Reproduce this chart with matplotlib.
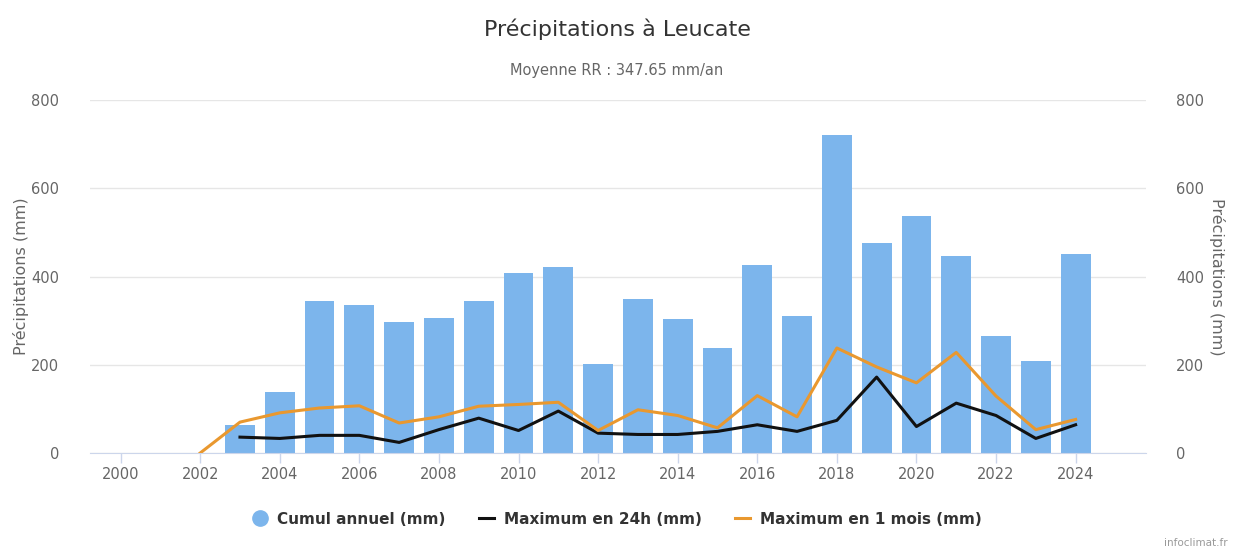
import numpy as np
import matplotlib
matplotlib.use('Agg')
import matplotlib.pyplot as plt
from matplotlib.lines import Line2D

# yearly data
years = list(range(2003, 2025))
cumul = [64, 138, 345, 335, 297, 306, 345, 408, 421, 202, 348,
         304, 237, 427, 310, 720, 475, 538, 446, 265, 208, 450]
max_24h = [36, 33, 40, 40, 24, 53, 79, 51, 95, 45, 42,
           42, 49, 64, 49, 74, 172, 60, 113, 85, 33, 64]
years_1m = list(range(2002, 2025))
max_1mois = [0, 70, 91, 102, 107, 68, 82, 106, 110, 115, 51, 98,
             85, 57, 130, 82, 238, 195, 159, 228, 129, 53, 76]

xticks = list(range(2000, 2025, 2))
yticks = [0, 200, 400, 600, 800]

plt.rcParams['font.family'] = ['DejaVu Sans']

fig = plt.figure(figsize=(12.34, 5.54), dpi=100)
ax = fig.add_axes([0.0729, 0.1823, 0.8555, 0.6372])

bar_c = '#7cb5ec'
orange = '#e9982f'
gray_txt = '#666666'

ax.bar(years, cumul, width=0.75, color=bar_c, zorder=2)
ax.plot(years, max_24h, color='#111111', lw=2.2, zorder=3)
ax.plot(years_1m, max_1mois, color=orange, lw=2.2, zorder=3)

ax.set_xlim(1999.23, 2025.76)
ax.set_ylim(0, 800)
ax.set_yticks(yticks)
ax.set_xticks(xticks)
ax.grid(axis='y', color='#e6e6e6', lw=1, zorder=0)
for s in ['top', 'right', 'left']:
    ax.spines[s].set_visible(False)
ax.spines['bottom'].set_color('#ccd6eb')
ax.tick_params(axis='x', colors='#ccd6eb', length=7, width=1, labelcolor=gray_txt,
               labelsize=10.5, pad=3)
ax.tick_params(axis='y', length=0, labelcolor=gray_txt, labelsize=10.5, pad=22)
ax.set_ylabel('Précipitations (mm)', color=gray_txt, fontsize=11.5, labelpad=2)

ax2 = ax.twinx()
ax2.set_ylim(0, 800)
ax2.set_yticks(yticks)
for s in ['top', 'right', 'left', 'bottom']:
    ax2.spines[s].set_visible(False)
ax2.tick_params(axis='y', length=0, labelcolor=gray_txt, labelsize=10.5, pad=22)
ax2.set_ylabel('Précipitations (mm)', color=gray_txt, fontsize=11.5, rotation=270,
               labelpad=15)

fig.text(0.5, 0.948, 'Précipitations à Leucate', ha='center', va='center',
         fontsize=16, color='#333333')
fig.text(0.5, 0.872, 'Moyenne RR : 347.65 mm/an', ha='center', va='center',
         fontsize=10.5, color=gray_txt)

handles = [
    Line2D([], [], marker='o', ls='none', color=bar_c, markersize=11),
    Line2D([], [], color='#111111', lw=2.2),
    Line2D([], [], color=orange, lw=2.2),
]
labels = ['Cumul annuel (mm)', 'Maximum en 24h (mm)', 'Maximum en 1 mois (mm)']
leg = fig.legend(handles, labels, loc='center', bbox_to_anchor=(0.5, 0.063),
                 ncol=3, frameon=False, handlelength=1.0, handletextpad=0.6,
                 columnspacing=2.2, prop={'weight': 'bold', 'size': 11})
for t in leg.get_texts():
    t.set_color('#333333')

fig.text(0.995, 0.01, 'infoclimat.fr', ha='right', va='bottom', fontsize=7.5,
         color='#999999')

fig.savefig('out.png', dpi=100)
